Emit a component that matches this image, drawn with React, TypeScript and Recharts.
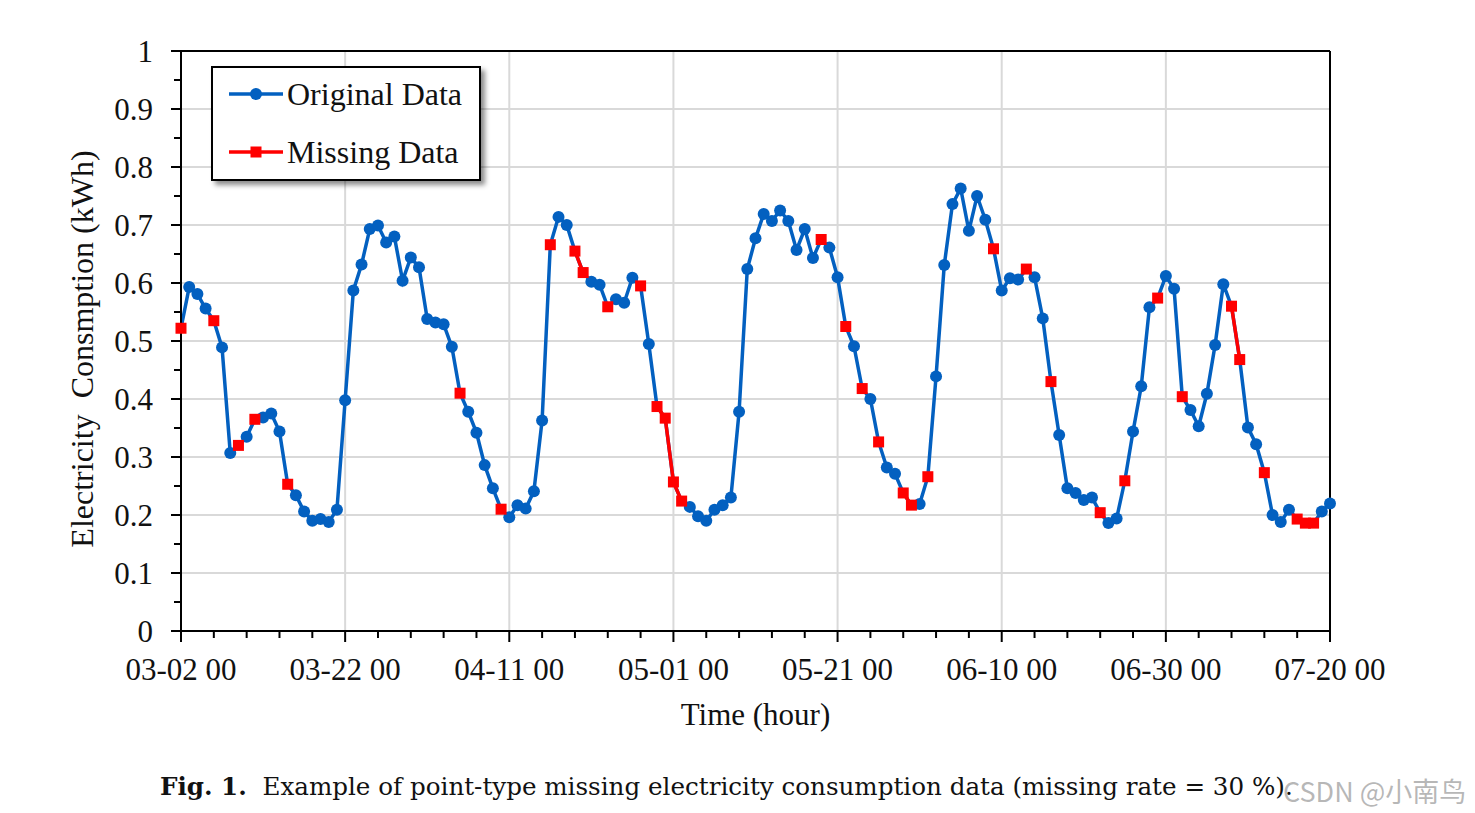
import React from 'react';
import { LineChart, Line, XAxis, YAxis, CartesianGrid, ReferenceLine, Label } from 'recharts';

// 每日用电量 (kWh)，第 0 天 = 03-02 00，共 141 个点
const consumption = [
  0.522, 0.593, 0.581, 0.556, 0.535, 0.489, 0.307, 0.320, 0.335, 0.365,
  0.368, 0.375, 0.344, 0.253, 0.234, 0.206, 0.190, 0.193, 0.188, 0.209,
  0.398, 0.587, 0.632, 0.693, 0.699, 0.670, 0.680, 0.604, 0.644, 0.627,
  0.538, 0.532, 0.529, 0.490, 0.410, 0.378, 0.342, 0.286, 0.246, 0.210,
  0.196, 0.217, 0.211, 0.241, 0.363, 0.666, 0.714, 0.700, 0.655, 0.618,
  0.602, 0.597, 0.559, 0.572, 0.566, 0.609, 0.595, 0.495, 0.387, 0.367,
  0.257, 0.224, 0.214, 0.198, 0.190, 0.209, 0.217, 0.230, 0.378, 0.624,
  0.677, 0.719, 0.707, 0.725, 0.707, 0.657, 0.693, 0.643, 0.675, 0.661,
  0.610, 0.525, 0.491, 0.418, 0.400, 0.326, 0.282, 0.271, 0.238, 0.217,
  0.219, 0.266, 0.439, 0.631, 0.736, 0.763, 0.690, 0.750, 0.709, 0.659,
  0.587, 0.608, 0.606, 0.624, 0.610, 0.539, 0.430, 0.338, 0.246, 0.238,
  0.226, 0.230, 0.204, 0.186, 0.194, 0.259, 0.344, 0.422, 0.558, 0.574,
  0.612, 0.590, 0.404, 0.381, 0.353, 0.409, 0.493, 0.598, 0.560, 0.468,
  0.351, 0.322, 0.273, 0.200, 0.188, 0.209, 0.193, 0.186, 0.186, 0.206,
  0.220,
];

// 缺失点的日序号
const missingDays = [
  0, 4, 7, 9, 13, 34, 39, 45, 48, 49, 52, 56, 58, 59, 60, 61, 78, 81, 83, 85,
  88, 89, 91, 99, 103, 106, 112, 115, 119, 122, 128, 129, 132, 136, 137, 138,
];

const xTickLabels = ['03-02 00', '03-22 00', '04-11 00', '05-01 00', '05-21 00', '06-10 00', '06-30 00', '07-20 00'];
const xTicks = Array.from({ length: 36 }, (_, i) => i * 4);
const yTicks = Array.from({ length: 21 }, (_, i) => i * 5 / 100);
const gridY = [0.1, 0.2, 0.3, 0.4, 0.5, 0.6, 0.7, 0.8, 0.9];
const gridX = [20, 40, 60, 80, 100, 120];

const BLUE = '#0360C0';
const RED = '#FF0000';
const FONT = '"Liberation Serif", "Times New Roman", serif';

const data = consumption.map((v, day) => ({
  day,
  original: v,
  missing: missingDays.includes(day) ? v : null,
}));

const XTick = (props: any) => {
  const { x, y, payload } = props;
  const v = payload.value;
  const major = v % 20 === 0;
  return (
    <g>
      <line x1={x} x2={x} y1={y} y2={y + (major ? 11 : 7)} stroke="#000" strokeWidth={2} />
      {major && (
        <text x={x} y={y + 49} textAnchor="middle" fontFamily={FONT} fontSize={31} fill="#111">
          {xTickLabels[v / 20]}
        </text>
      )}
    </g>
  );
};

const YTick = (props: any) => {
  const { x, y, payload } = props;
  const n = Math.round(payload.value * 100);
  const major = n % 10 === 0;
  return (
    <g>
      <line x1={x} x2={x - (major ? 10 : 7)} y1={y} y2={y} stroke="#000" strokeWidth={2} />
      {major && (
        <text x={x - 28} y={y + 11} textAnchor="end" fontFamily={FONT} fontSize={31} fill="#111">
          {n === 0 ? '0' : n === 100 ? '1' : (n / 100).toFixed(1)}
        </text>
      )}
    </g>
  );
};

const BlueDot = (props: any) => {
  const { cx, cy, index } = props;
  if (cy == null || missingDays.includes(index)) return <g key={`b-${index}`} />;
  return <circle key={`b-${index}`} cx={cx} cy={cy} r={6} fill={BLUE} />;
};

const RedDot = (props: any) => {
  const { cx, cy, index } = props;
  if (cy == null) return <g key={`r-${index}`} />;
  return <rect key={`r-${index}`} x={cx - 5.5} y={cy - 5.5} width={11} height={11} fill={RED} />;
};

const LegendBox = () => (
  <div
    style={{
      position: 'absolute', left: 211, top: 66, width: 266, height: 111,
      border: '2px solid #000', background: '#fff', boxShadow: '4px 4px 5px rgba(0,0,0,0.45)',
      fontFamily: FONT, fontSize: 32, color: '#111',
    }}
  >
    {[
      { label: 'Original Data', color: BLUE, marker: 'circle', top: 26 },
      { label: 'Missing Data', color: RED, marker: 'square', top: 84 },
    ].map((item) => (
      <div key={item.label} style={{ position: 'absolute', left: 0, top: item.top - 20, height: 40, display: 'flex', alignItems: 'center' }}>
        <svg width={74} height={40} style={{ display: 'block' }}>
          <line x1={16} x2={70} y1={20} y2={20} stroke={item.color} strokeWidth={3.5} />
          {item.marker === 'circle'
            ? <circle cx={43} cy={20} r={6} fill={item.color} />
            : <rect x={37.5} y={14.5} width={11} height={11} fill={item.color} />}
        </svg>
        <span style={{ whiteSpace: 'nowrap', lineHeight: '40px' }}>{item.label}</span>
      </div>
    ))}
  </div>
);

export default function App() {
  return (
    <div style={{ position: 'absolute', left: 0, top: 0, width: 1475, height: 813, background: '#fff' }}>
      <LineChart width={1475} height={813} data={data} margin={{ top: 51, right: 145, bottom: 142, left: 121 }}>
        <CartesianGrid horizontalValues={gridY} verticalValues={gridX} stroke="#d9d9d9" strokeWidth={2} />
        <XAxis
          dataKey="day" type="number" domain={[0, 140]} ticks={xTicks} interval={0}
          height={40} tickSize={0} tickMargin={0} tickLine={false} tick={<XTick />}
          axisLine={{ stroke: '#000', strokeWidth: 2 }}
        >
          <Label value="Time (hour)" position="bottom" offset={32} fontFamily={FONT} fontSize={31} fill="#111" />
        </XAxis>
        <YAxis
          type="number" domain={[0, 1]} ticks={yTicks} interval={0}
          width={60} tickSize={0} tickMargin={0} tickLine={false} tick={<YTick />}
          axisLine={{ stroke: '#000', strokeWidth: 2 }}
        >
          <Label
            content={() => (
              <text x={82} y={349} transform="rotate(-90 82 349)" textAnchor="middle" dominantBaseline="central"
                fontFamily={FONT} fontSize={32} fill="#111" style={{ whiteSpace: 'pre' }}>
                {'Electricity  Consmption (kWh)'}
              </text>
            )}
          />
        </YAxis>
        <ReferenceLine y={1} stroke="#000" strokeWidth={2} />
        <ReferenceLine x={140} stroke="#000" strokeWidth={2} />
        <Line
          type="linear" dataKey="original" stroke={BLUE} strokeWidth={3.5}
          dot={BlueDot} activeDot={false} isAnimationActive={false}
        />
        <Line
          type="linear" dataKey="missing" stroke={RED} strokeWidth={3.5}
          dot={RedDot} activeDot={false} connectNulls={false} isAnimationActive={false}
        />
      </LineChart>
      <LegendBox />
      <div
        style={{
          position: 'absolute', left: 160, top: 772, fontFamily: '"DejaVu Serif", serif', fontSize: 24.6,
          color: '#111', whiteSpace: 'pre',
        }}
      >
        <b>Fig. 1.</b>{'  Example of point-type missing electricity consumption data (missing rate = 30 %).'}
      </div>
      <div
        style={{
          position: 'absolute', left: 1283, top: 771, fontFamily: '"Noto Sans CJK SC", "Noto Sans", sans-serif',
          fontSize: 27, color: 'rgba(160,160,160,0.75)', whiteSpace: 'nowrap',
        }}
      >
        CSDN @小南鸟
      </div>
    </div>
  );
}
